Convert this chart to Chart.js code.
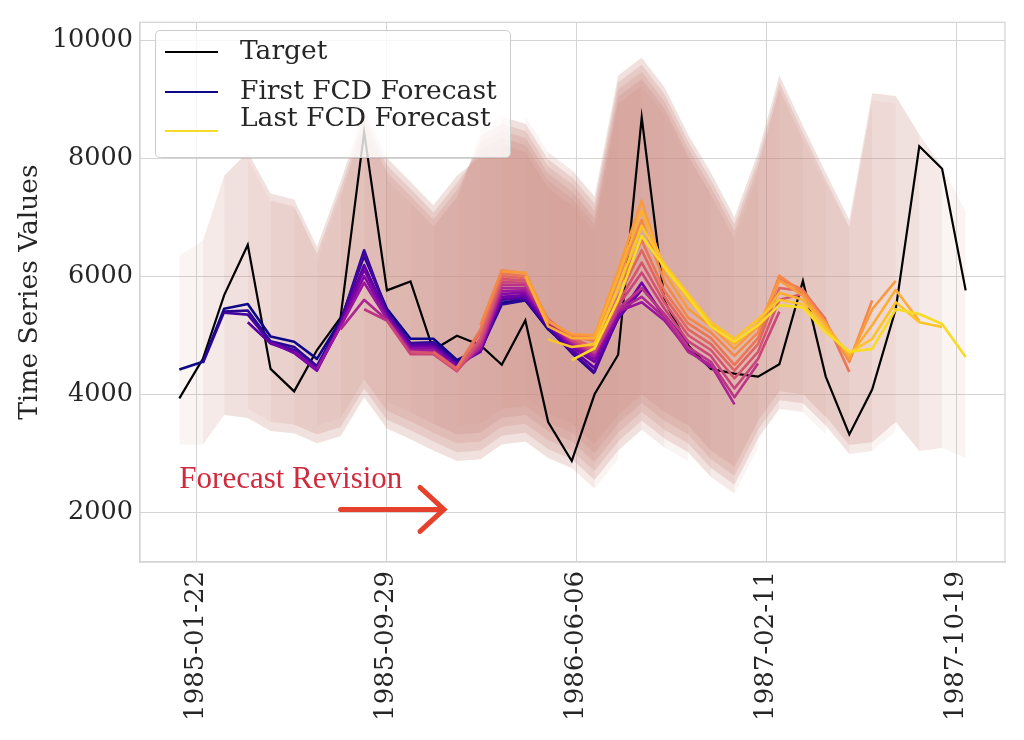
<!DOCTYPE html>
<html>
<head>
<meta charset="utf-8">
<script src="https://cdn.jsdelivr.net/npm/chart.js@4.4.1/dist/chart.umd.min.js"></script>
<style>
html,body{margin:0;padding:0;background:#ffffff;}
#wrap{width:1024px;height:740px;}
</style>
</head>
<body>
<div id="wrap"><canvas id="c" width="1024" height="740"></canvas></div>
<script>
// ---------------- DATA ----------------
const dates = ['1984-12-31','1985-01-31','1985-02-28','1985-03-31','1985-04-30','1985-05-31','1985-06-30','1985-07-31','1985-08-31','1985-09-30','1985-10-31','1985-11-30','1985-12-31','1986-01-31','1986-02-28','1986-03-31','1986-04-30','1986-05-31','1986-06-30','1986-07-31','1986-08-31','1986-09-30','1986-10-31','1986-11-30','1986-12-31','1987-01-31','1987-02-28','1987-03-31','1987-04-30','1987-05-31','1987-06-30','1987-07-31','1987-08-31','1987-09-30','1987-10-31'];

const target = [3930,4600,5680,6530,4430,4050,4750,5300,8440,5760,5910,4750,4990,4830,4500,5250,3530,2870,4000,4670,8690,5580,4830,4430,4350,4300,4510,5920,4300,3320,4080,5440,8200,7820,5760];

// index into dates where each forecast starts (each forecast has 18 values)
const forecastStart = [0,1,2,3,4,5,6,7,8,9,10,11,12,13,14,15,16,17];
const fc00 = [4420,4550,5450,5530,4980,4890,4600,5250,6340,5450,4940,4940,4580,4780,5550,5600,5100,4750];
const fc01 = [4530,5400,5420,4900,4800,4480,5220,6440,5400,4870,4880,4550,4750,5520,5590,5120,4700,4350];
const fc02 = [5380,5350,4880,4750,4450,5200,6390,5380,4850,4850,4520,4730,5600,5620,5150,4720,4380,5300];
const fc03 = [5220,4860,4720,4420,5200,6190,5350,4820,4820,4500,4720,5620,5650,5170,4760,4450,5280,5770];
const fc04 = [4880,4700,4400,5180,6110,5330,4800,4800,4480,4740,5650,5680,5180,4800,4550,5300,5890,5300];
const fc05 = [4720,4420,5150,6000,5300,4780,4780,4460,4760,5700,5720,5200,4830,4600,5350,5800,5350,4850];
const fc06 = [4430,5150,5890,5280,4750,4750,4440,4780,5750,5760,5220,4860,4650,5400,5560,5250,4750,4450];
const fc07 = [5100,5600,5260,4720,4720,4420,4800,5800,5800,5230,4880,4680,5420,5650,5300,4720,4500,3830];
const fc08 = [5440,5250,4700,4700,4400,4850,5850,5850,5250,4900,4700,5450,5800,5350,4800,4550,3950,4520];
const fc09 = [5250,4680,4680,4390,4900,5900,5890,5260,4920,4720,5500,6060,5450,4900,4650,4100,4600,5400];
const fc10 = [4720,4700,4400,4950,5950,5930,5270,4950,4750,5550,6230,5550,5000,4750,4270,4720,5600,5700];
const fc11 = [4720,4430,5050,6000,5970,5260,4970,4780,5650,6440,5650,5100,4850,4400,4850,5800,5750,5270];
const fc12 = [4450,5100,6050,6000,5250,4990,4900,5800,6610,5750,5200,4950,4500,4950,5950,5770,5250,4380];
const fc13 = [5170,6100,6050,5250,5000,4950,5950,6950,5900,5300,5050,4650,5050,6010,5720,5220,4550,5590];
const fc14 = [6080,6060,5230,5020,5000,6100,7280,6050,5450,5150,4770,5150,5930,5670,5200,4600,5440,5920];
const fc15 = [6000,5150,4950,4950,6000,7110,6150,5600,5200,4850,5200,5720,5600,5170,4650,5170,5770,5240];
const fc16 = [4930,4800,4850,5800,6850,6200,5700,5220,4940,5270,5600,5520,5100,4700,4940,5560,5220,5140];
const fc17 = [4580,4780,5600,6680,6150,5650,5150,4890,5170,5510,5470,5050,4720,4770,5440,5360,5190,4630];
const forecasts = [fc00,fc01,fc02,fc03,fc04,fc05,fc06,fc07,fc08,fc09,fc10,fc11,fc12,fc13,fc14,fc15,fc16,fc17];

// uncertainty band envelopes, one per group of three forecasts (20 values each, from bandStart)
const bandStart = [0,3,6,9,12,15];
const bandUp0 = [6350,6600,7700,8100,7400,7300,6500,7600,8800,8000,7600,7200,7700,8020,8220,8100,7500,7200,6750,8800];
const bandLo0 = [3150,3150,3650,3600,3380,3340,3170,3290,3950,3420,3240,3050,2870,2900,3150,3200,2920,2750,2400,2900];
const bandUp1 = [7980,7280,7180,6380,7480,8680,7880,7480,7080,7580,8140,8340,8220,7620,7320,6870,8920,9220,8720,7920];
const bandLo1 = [3750,3530,3490,3320,3440,4100,3570,3390,3200,3020,3050,3300,3350,3070,2900,2550,3050,3400,3100,2870];
const bandUp2 = [6260,7360,8560,7760,7360,6960,7460,8260,8460,8340,7740,7440,6990,9040,9340,8840,8040,7390,6640,7740];
const bandLo2 = [3470,3590,4250,3720,3540,3350,3170,3200,3450,3500,3220,3050,2700,3200,3550,3250,3020,2600,2320,3100];
const bandUp3 = [7640,7240,6840,7340,8380,8580,8460,7860,7560,7110,9160,9460,8960,8160,7510,6760,7860,9160,8310,7510];
const bandLo3 = [3870,3690,3500,3320,3350,3600,3650,3370,3200,2850,3350,3700,3400,3170,2750,2470,3250,3750,3700,3320];
const bandUp4 = [7220,8500,8700,8580,7980,7680,7230,9280,9580,9080,8280,7630,6880,7980,9280,8430,7630,6830,8980,8930];
const bandLo4 = [3470,3500,3750,3800,3520,3350,3000,3500,3850,3550,3320,2900,2620,3400,3900,3850,3470,2990,3040,3380];
const bandUp5 = [8700,8100,7800,7350,9400,9700,9200,8400,7750,7000,8100,9400,8550,7750,6950,9100,9050,8400,7850,7100];
const bandLo5 = [3950,3670,3500,3150,3650,4000,3700,3470,3050,2770,3550,4050,4000,3620,3140,3190,3530,3040,3090,2920];
const bandUpper = [bandUp0,bandUp1,bandUp2,bandUp3,bandUp4,bandUp5];
const bandLower = [bandLo0,bandLo1,bandLo2,bandLo3,bandLo4,bandLo5];

const xTickDates = ['1985-01-22','1985-09-29','1986-06-06','1987-02-11','1987-10-19'];
const yTicks = [2000,4000,6000,8000,10000];
const legendLabels = ['Target','First FCD Forecast','Last FCD Forecast'];
const annotationText = 'Forecast Revision';

// ---------------- HELPERS ----------------
function ts(d){ const p=d.split('-').map(Number); return Date.UTC(p[0],p[1]-1,p[2]); }
function fmt(v){ const d=new Date(v); const m=String(d.getUTCMonth()+1).padStart(2,'0'); const dd=String(d.getUTCDate()).padStart(2,'0'); return d.getUTCFullYear()+'-'+m+'-'+dd; }
const PL=[[13,8,135],[65,4,157],[106,0,168],[143,13,164],[177,42,144],[204,71,120],[225,100,98],[242,132,75],[252,166,54],[252,206,37],[240,249,33]];
function plasma(t){ const s=Math.max(0,Math.min(1,t))*10; const i=Math.min(9,Math.floor(s)); const f=s-i; const a=PL[i], b=PL[i+1];
  return 'rgb('+Math.round(a[0]+(b[0]-a[0])*f)+','+Math.round(a[1]+(b[1]-a[1])*f)+','+Math.round(a[2]+(b[2]-a[2])*f)+')'; }
const nF = forecasts.length;
function fcColor(k){ return plasma(k/(nF-1)*0.93); }

const xs = dates.map(ts);
const span = xs[xs.length-1]-xs[0];
const xMin = xs[0]-0.05*span, xMax = xs[xs.length-1]+0.05*span;

// ---------------- DATASETS ----------------
const datasets = [];
forecasts.forEach((f,k)=>{
  const s = forecastStart[k];
  const g = Math.floor(k/3);
  const off = s - bandStart[g];
  const lo = bandLower[g].slice(off, off+f.length);
  const up = bandUpper[g].slice(off, off+f.length);
  datasets.push({type:'line', data: lo.map((v,j)=>({x:xs[s+j], y:v})), borderWidth:0, borderColor:'rgba(0,0,0,0)', pointRadius:0, fill:false, order:1000+k});
  datasets.push({type:'line', data: up.map((v,j)=>({x:xs[s+j], y:v})), borderWidth:0, borderColor:'rgba(0,0,0,0)', pointRadius:0, fill:'-1', backgroundColor:'rgba(207,146,140,0.10)', order:1000+k});
});
datasets.push({type:'line', label:'Target', data: target.map((v,i)=>({x:xs[i], y:v})), borderColor:'#000000', borderWidth:2.2, pointRadius:0, fill:false, tension:0, order:500});
forecasts.forEach((f,k)=>{
  const s = forecastStart[k];
  datasets.push({type:'line', data: f.map((v,j)=>({x:xs[s+j], y:v})), borderColor: fcColor(k), borderWidth:2.6, pointRadius:0, fill:false, tension:0, order:100-k, borderJoinStyle:'round'});
});

const FONT = "'DejaVu Serif', serif";
const GRID = '#d4d4d4';

const overlay = {
  id:'overlay',
  afterDraw(chart){
    const {ctx, chartArea:a, scales} = chart;
    const X = scales.x, Y = scales.y;
    ctx.save();
    // frame
    ctx.strokeStyle = GRID; ctx.lineWidth = 1.25;
    ctx.strokeRect(a.left, a.top, a.right-a.left, a.bottom-a.top);
    // annotation text
    ctx.fillStyle = '#cf2a3e';
    ctx.font = "31px 'Liberation Serif', serif";
    ctx.textBaseline = 'alphabetic'; ctx.textAlign = 'left';
    ctx.fillText(annotationText, X.getPixelForValue(xs[0]), Y.getPixelForValue(2420));
    // arrow
    const x0 = X.getPixelForValue(ts('1985-07-31')), x1 = X.getPixelForValue(ts('1985-12-14'));
    const yA = Y.getPixelForValue(2050);
    ctx.strokeStyle = '#e6412d'; ctx.lineWidth = 5; ctx.lineCap = 'round'; ctx.lineJoin='miter';
    ctx.beginPath(); ctx.moveTo(x0, yA); ctx.lineTo(x1-2, yA); ctx.stroke();
    ctx.beginPath(); ctx.moveTo(x1-24, yA-22); ctx.lineTo(x1, yA); ctx.lineTo(x1-24, yA+22); ctx.stroke();
    // legend
    const bx=155.5, by=30.5, bw=355, bh=127, r=5;
    ctx.beginPath();
    ctx.moveTo(bx+r,by); ctx.lineTo(bx+bw-r,by); ctx.quadraticCurveTo(bx+bw,by,bx+bw,by+r);
    ctx.lineTo(bx+bw,by+bh-r); ctx.quadraticCurveTo(bx+bw,by+bh,bx+bw-r,by+bh);
    ctx.lineTo(bx+r,by+bh); ctx.quadraticCurveTo(bx,by+bh,bx,by+bh-r);
    ctx.lineTo(bx,by+r); ctx.quadraticCurveTo(bx,by,bx+r,by); ctx.closePath();
    ctx.fillStyle='rgba(255,255,255,0.8)'; ctx.fill();
    ctx.strokeStyle='#cccccc'; ctx.lineWidth=1; ctx.lineCap='butt'; ctx.stroke();
    const entries = [[legendLabels[0],'#000000',52,52],[legendLabels[1],fcColor(0),92,92],[legendLabels[2],fcColor(nF-1),131,119]];
    ctx.font = '26.5px '+FONT; ctx.textBaseline='middle'; ctx.textAlign='left';
    entries.forEach(e=>{
      ctx.strokeStyle=e[1]; ctx.lineWidth=2.2;
      ctx.beginPath(); ctx.moveTo(165,e[2]); ctx.lineTo(218,e[2]); ctx.stroke();
      ctx.fillStyle='#262626'; ctx.fillText(e[0],240,e[3]);
    });
    ctx.restore();
  }
};

new Chart(document.getElementById('c'), {
  type:'line',
  data:{datasets},
  plugins:[overlay],
  options:{
    responsive:false, animation:false, devicePixelRatio:1,
    layout:{padding:{left:0,right:19,top:17,bottom:0}},
    plugins:{legend:{display:false}, tooltip:{enabled:false}},
    elements:{line:{tension:0}},
    scales:{
      x:{type:'linear', min:xMin, max:xMax,
        afterBuildTicks:s=>{ s.ticks = xTickDates.map(d=>({value:ts(d)})); },
        afterFit:s=>{ s.height = 178; },
        ticks:{callback:v=>fmt(v), autoSkip:false, maxRotation:90, minRotation:90, padding:9, color:'#262626', font:{family:FONT, size:26}},
        grid:{color:GRID, lineWidth:1, drawTicks:false},
        border:{color:GRID, width:1.25}
      },
      y:{type:'linear', min:1160, max:10300,
        afterBuildTicks:s=>{ s.ticks = yTicks.map(v=>({value:v})); },
        afterFit:s=>{ s.width = 140; },
        ticks:{callback:v=>String(v), padding:7, color:'#262626', font:{family:FONT, size:25.5}},
        grid:{color:GRID, lineWidth:1, drawTicks:false},
        border:{color:GRID, width:1.25},
        title:{display:true, text:'Time Series Values', color:'#262626', font:{family:FONT, size:26.5}, padding:{top:14,bottom:0}}
      }
    }
  }
});
</script>
</body>
</html>
